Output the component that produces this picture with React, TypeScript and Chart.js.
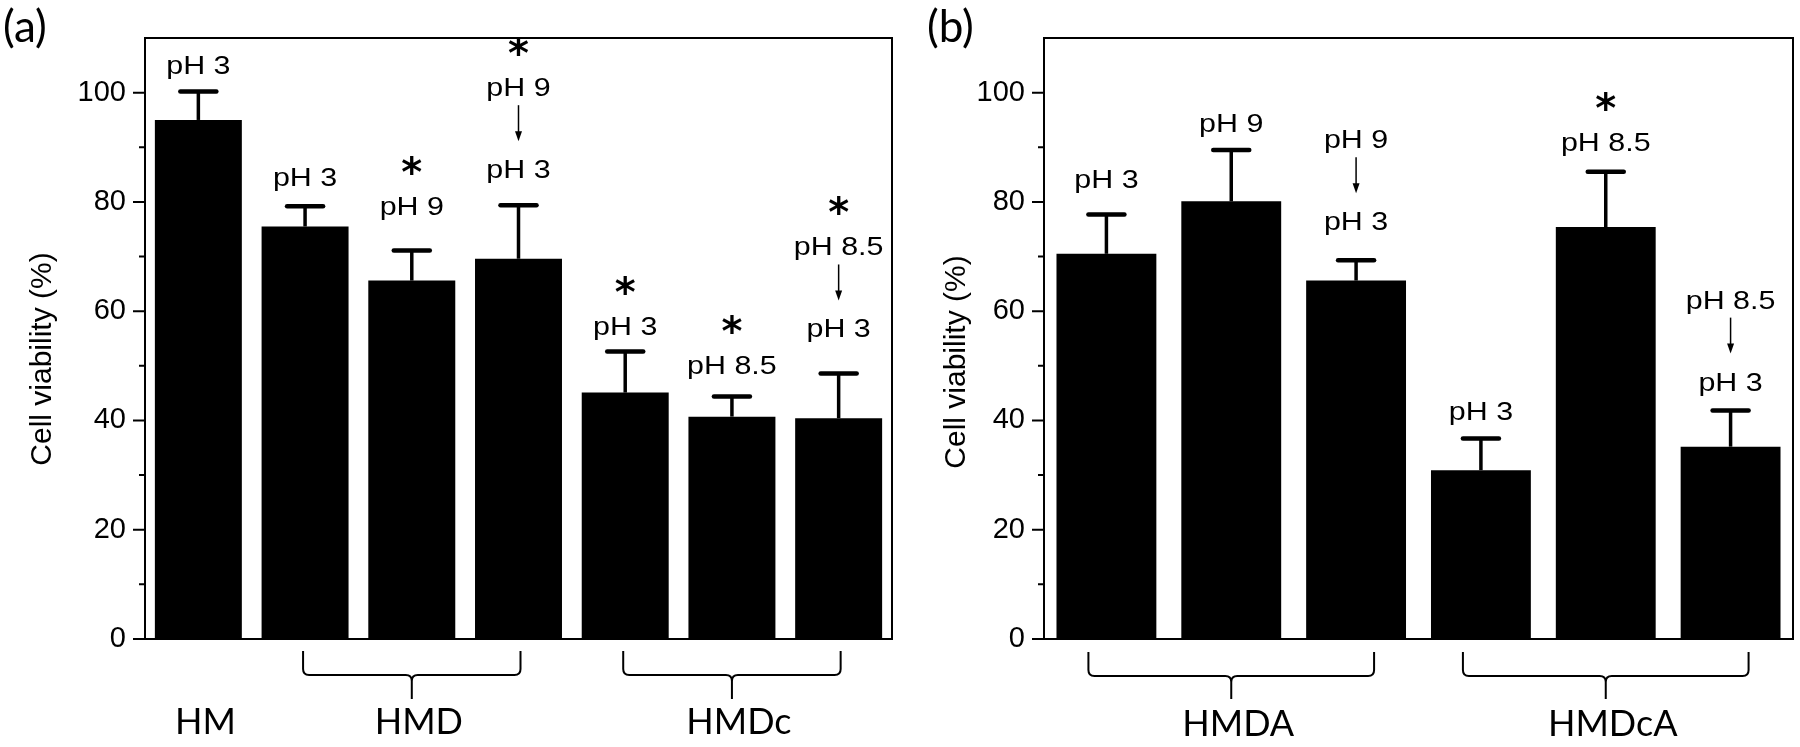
import React, { useEffect, useRef } from 'react';
import { Chart, registerables } from 'chart.js';

Chart.register(...registerables);

// ---------------- data ----------------
const yMajorTicks = [0, 20, 40, 60, 80, 100];
const yMinorTicks = [10, 30, 50, 70, 90];
const yMin = 0;
const yMax = 110;
const yTitle = 'Cell viability (%)';

// Panel (a)
const conditionsA = ['HM pH 3', 'HMD pH 3', 'HMD pH 9', 'HMD pH 9→3', 'HMDc pH 3', 'HMDc pH 8.5', 'HMDc pH 8.5→3'];
const viabilityA = [95.0, 75.5, 65.6, 69.6, 45.1, 40.7, 40.4];
const sdA = [5.2, 3.7, 5.5, 9.8, 7.5, 3.7, 8.2];
const notesA = [
  ['pH 3'],
  ['pH 3'],
  ['*', 'pH 9'],
  ['*', 'pH 9', 'ARROW', 'pH 3'],
  ['*', 'pH 3'],
  ['*', 'pH 8.5'],
  ['*', 'pH 8.5', 'ARROW', 'pH 3'],
];
const groupsA = [
  { label: 'HM', first: 0, last: 0 },
  { label: 'HMD', first: 1, last: 3 },
  { label: 'HMDc', first: 4, last: 6 },
];

// Panel (b)
const conditionsB = ['HMDA pH 3', 'HMDA pH 9', 'HMDA pH 9→3', 'HMDcA pH 3', 'HMDcA pH 8.5', 'HMDcA pH 8.5→3'];
const viabilityB = [70.5, 80.1, 65.6, 30.9, 75.4, 35.2];
const sdB = [7.2, 9.4, 3.7, 5.8, 10.1, 6.6];
const notesB = [
  ['pH 3'],
  ['pH 9'],
  ['pH 9', 'ARROW', 'pH 3'],
  ['pH 3'],
  ['*', 'pH 8.5'],
  ['pH 8.5', 'ARROW', 'pH 3'],
];
const groupsB = [
  { label: 'HMDA', first: 0, last: 2 },
  { label: 'HMDcA', first: 3, last: 5 },
];

// ---------------- layout ----------------
const W = 900;
const H = 747;

const layoutA = {
  area: { left: 145, right: 892, top: 38, bottom: 639 },
  barFraction: 0.815,
  noteLift: [18, 20, 36, 27, 17, 22, 36],
  panelLabel: '(a)',
  panelLabelX: 3,
  titleX: 43,
  titleY: 359,
  bracketExtend: 2,
  bracketTop: 651,
  bracketMid: 675,
  bracketTip: 699,
  groupLabelBaseline: 734,
};

const layoutB = {
  area: { left: 144, right: 893, top: 38, bottom: 639 },
  barFraction: 0.8,
  noteLift: [26, 18, 30, 18, 21, 20],
  panelLabel: '(b)',
  panelLabelX: 27,
  titleX: 57,
  titleY: 362,
  bracketExtend: 18,
  bracketTop: 652,
  bracketMid: 676,
  bracketTip: 699,
  groupLabelBaseline: 736,
};

const SANS = '"Liberation Sans", Arial, sans-serif';

function Panel(props: any) {
  const { conditions, values, sds, notes, groups, layout, left } = props;
  const ref = useRef<HTMLCanvasElement>(null);

  useEffect(() => {
    const canvas = ref.current as HTMLCanvasElement;
    const A = layout.area;

    const overlay = {
      id: 'overlay',
      afterDraw(chart: any) {
        const ctx = chart.ctx as CanvasRenderingContext2D;
        const ys = chart.scales.y;
        const ca = chart.chartArea;
        const meta = chart.getDatasetMeta(0);
        ctx.save();
        ctx.strokeStyle = '#000';
        ctx.fillStyle = '#000';

        // frame
        ctx.lineWidth = 2;
        ctx.lineCap = 'butt';
        ctx.strokeRect(ca.left, ca.top, ca.right - ca.left, ca.bottom - ca.top);

        // y ticks
        ctx.beginPath();
        yMajorTicks.forEach((v) => {
          const p = ys.getPixelForValue(v);
          ctx.moveTo(ca.left - 12, p);
          ctx.lineTo(ca.left, p);
        });
        yMinorTicks.forEach((v) => {
          const p = ys.getPixelForValue(v);
          ctx.moveTo(ca.left - 6, p);
          ctx.lineTo(ca.left, p);
        });
        ctx.stroke();

        const drawText = (t: string, x: number, baseline: number) => {
          ctx.save();
          ctx.translate(x, baseline);
          ctx.scale(1.17, 1);
          ctx.font = '26px ' + SANS;
          ctx.textAlign = 'center';
          ctx.textBaseline = 'alphabetic';
          ctx.fillText(t, 0, 0);
          ctx.restore();
        };
        const drawStar = (x: number, bottom: number) => {
          ctx.save();
          ctx.font = 'bold 40px "DejaVu Sans"';
          ctx.textAlign = 'center';
          ctx.textBaseline = 'alphabetic';
          const m = ctx.measureText('*');
          const desc = m.actualBoundingBoxDescent || -14;
          ctx.fillText('*', x, bottom - desc);
          ctx.restore();
        };
        const drawArrow = (x: number, top: number, bottom: number) => {
          ctx.save();
          ctx.lineWidth = 1.5;
          ctx.beginPath();
          ctx.moveTo(x, top);
          ctx.lineTo(x, bottom - 8);
          ctx.stroke();
          ctx.beginPath();
          ctx.moveTo(x - 3.5, bottom - 10);
          ctx.lineTo(x + 3.5, bottom - 10);
          ctx.lineTo(x, bottom);
          ctx.closePath();
          ctx.fill();
          ctx.restore();
        };

        // error bars + notes
        meta.data.forEach((el: any, i: number) => {
          const x = el.x;
          const top = el.y;
          const cap = ys.getPixelForValue(values[i] + sds[i]);
          ctx.lineWidth = 3.5;
          ctx.lineCap = 'butt';
          ctx.beginPath();
          ctx.moveTo(x, top);
          ctx.lineTo(x, cap);
          ctx.stroke();
          ctx.lineWidth = 4.5;
          ctx.lineCap = 'round';
          ctx.beginPath();
          ctx.moveTo(x - 18, cap);
          ctx.lineTo(x + 18, cap);
          ctx.stroke();
          ctx.lineCap = 'butt';

          let cursor = cap - layout.noteLift[i];
          let prev = 'none';
          const items = [...notes[i]].reverse();
          items.forEach((item: string) => {
            if (item === 'ARROW') {
              const b = cursor - 19;
              const t = b - 36;
              drawArrow(x, t, b);
              cursor = t;
              prev = 'arrow';
            } else if (item === '*') {
              const b = cursor - 22;
              drawStar(x, b);
              cursor = b - 15;
              prev = 'star';
            } else {
              const baseline = prev === 'none' ? cursor : cursor - 9;
              drawText(item, x, baseline);
              cursor = baseline - 18;
              prev = 'text';
            }
          });
        });

        // group brackets and labels
        groups.forEach((g: any) => {
          const x1 = meta.data[g.first].x;
          const x2 = meta.data[g.last].x;
          let mid = (x1 + x2) / 2;
          if (g.first !== g.last) {
            const L = x1 - layout.bracketExtend;
            const R = x2 + layout.bracketExtend;
            mid = (L + R) / 2;
            const yT = layout.bracketTop;
            const yH2 = layout.bracketMid;
            const yP = layout.bracketTip;
            const r = 6;
            ctx.lineWidth = 2;
            ctx.lineJoin = 'round';
            ctx.beginPath();
            ctx.moveTo(L, yT);
            ctx.lineTo(L, yH2 - r);
            ctx.quadraticCurveTo(L, yH2, L + r, yH2);
            ctx.lineTo(mid - r, yH2);
            ctx.quadraticCurveTo(mid, yH2, mid, yH2 + r);
            ctx.lineTo(mid, yP);
            ctx.moveTo(R, yT);
            ctx.lineTo(R, yH2 - r);
            ctx.quadraticCurveTo(R, yH2, R - r, yH2);
            ctx.lineTo(mid + r, yH2);
            ctx.quadraticCurveTo(mid, yH2, mid, yH2 + r);
            ctx.stroke();
          }
          ctx.font = '36px Lato, "Open Sans", sans-serif';
          ctx.textAlign = 'center';
          ctx.textBaseline = 'alphabetic';
          ctx.fillText(g.label, mid + 7, layout.groupLabelBaseline);
        });

        // panel label
        ctx.font = '44px Lato, "Open Sans", sans-serif';
        ctx.textAlign = 'left';
        ctx.textBaseline = 'alphabetic';
        ctx.fillText(layout.panelLabel, layout.panelLabelX, 42);

        // y title
        ctx.save();
        ctx.translate(layout.titleX, layout.titleY);
        ctx.rotate(-Math.PI / 2);
        ctx.font = '30px ' + SANS;
        ctx.textAlign = 'center';
        ctx.textBaseline = 'middle';
        ctx.fillText(yTitle, 0, 0);
        ctx.restore();

        ctx.restore();
      },
    };

    const chart = new Chart(canvas, {
      type: 'bar',
      data: {
        labels: conditions,
        datasets: [
          {
            data: values,
            backgroundColor: '#000',
            borderWidth: 0,
            barPercentage: layout.barFraction,
            categoryPercentage: 1,
          },
        ],
      },
      options: {
        animation: false,
        responsive: false,
        devicePixelRatio: 1,
        layout: { padding: { left: 0, top: A.top, right: W - A.right, bottom: 0 } },
        plugins: {
          legend: { display: false },
          tooltip: { enabled: false },
          title: { display: false },
        },
        scales: {
          x: {
            type: 'category',
            offset: true,
            grid: { display: false, drawTicks: false },
            border: { display: false },
            ticks: { display: false },
            afterFit: (s: any) => {
              s.height = H - A.bottom;
            },
          },
          y: {
            type: 'linear',
            min: yMin,
            max: yMax,
            afterBuildTicks: (s: any) => {
              s.ticks = yMajorTicks.map((v) => ({ value: v }));
            },
            grid: { display: false, drawTicks: true, tickLength: 12 },
            border: { display: false },
            ticks: {
              padding: 7,
              color: '#000',
              font: { family: SANS, size: 29 },
            },
            afterFit: (s: any) => {
              s.width = A.left;
            },
          },
        },
      },
      plugins: [overlay],
    } as any);

    return () => chart.destroy();
  }, []);

  return (
    <canvas
      ref={ref}
      width={W}
      height={H}
      style={{ position: 'absolute', left, top: 0, width: W, height: H, display: 'block' }}
    />
  );
}

export default function App() {
  return (
    <div style={{ position: 'fixed', left: 0, top: 0, width: 1800, height: 747, background: '#fff' }}>
      <Panel
        conditions={conditionsA}
        values={viabilityA}
        sds={sdA}
        notes={notesA}
        groups={groupsA}
        layout={layoutA}
        left={0}
      />
      <Panel
        conditions={conditionsB}
        values={viabilityB}
        sds={sdB}
        notes={notesB}
        groups={groupsB}
        layout={layoutB}
        left={900}
      />
    </div>
  );
}
